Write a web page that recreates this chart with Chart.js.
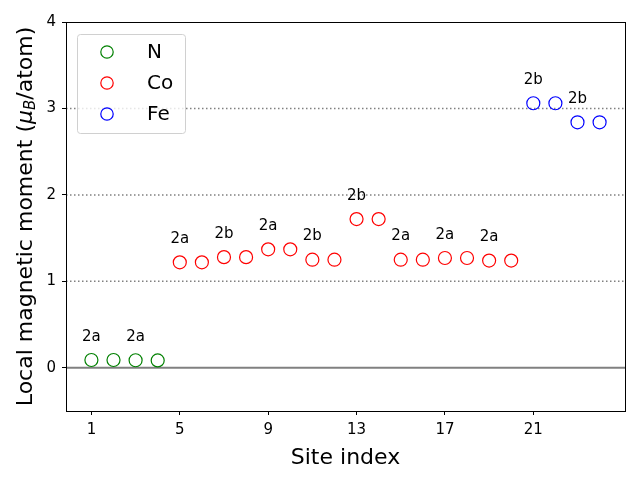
<!DOCTYPE html>
<html>
<head>
<meta charset="utf-8">
<script src="https://cdn.jsdelivr.net/npm/chart.js@4"></script>
<style>
  html, body { margin: 0; padding: 0; background: #fff; }
  #wrap { width: 640px; height: 480px; }
</style>
</head>
<body>
<div id="wrap"><canvas id="myChart" width="640" height="480"></canvas></div>
<script>
// site indices and local moments per element
const nSites = [1, 2, 3, 4];
const nMoments = [0.09, 0.09, 0.087, 0.085];
const coSites = [5, 6, 7, 8, 9, 10, 11, 12, 13, 14, 15, 16, 17, 18, 19, 20];
const coMoments = [1.22, 1.22, 1.28, 1.28, 1.37, 1.37, 1.25, 1.25, 1.72, 1.72, 1.25, 1.25, 1.27, 1.27, 1.24, 1.24];
const feSites = [21, 22, 23, 24];
const feMoments = [3.06, 3.06, 2.84, 2.84];

// wyckoff labels placed above the first site of each pair
const labelSites = [1, 3, 5, 7, 9, 11, 13, 15, 17, 19, 21, 23];
const labelText = ['2a', '2a', '2a', '2b', '2a', '2b', '2b', '2a', '2a', '2a', '2b', '2b'];

const xTicks = [1, 5, 9, 13, 17, 21];
const yTicks = [0, 1, 2, 3, 4];
const refLines = [1, 2, 3];

const seriesNames = ['N', 'Co', 'Fe'];
const seriesColors = ['green', 'red', 'blue'];

const FONT = 'DejaVu Sans';

function toPoints(xs, ys) {
  return xs.map((x, i) => ({ x: x, y: ys[i] }));
}

function momentAt(site) {
  let i = nSites.indexOf(site);
  if (i >= 0) return nMoments[i];
  i = coSites.indexOf(site);
  if (i >= 0) return coMoments[i];
  return feMoments[feSites.indexOf(site)];
}

const extras = {
  id: 'extras',
  beforeDatasetsDraw(chart) {
    const ctx = chart.ctx;
    const y = chart.scales.y;
    const a = chart.chartArea;
    ctx.save();
    // dotted reference lines
    ctx.strokeStyle = 'gray';
    ctx.lineWidth = 1.5;
    ctx.setLineDash([1.5, 2.5]);
    refLines.forEach(v => {
      const py = y.getPixelForValue(v);
      ctx.beginPath();
      ctx.moveTo(a.left, py);
      ctx.lineTo(a.right, py);
      ctx.stroke();
    });
    // zero line
    ctx.setLineDash([]);
    ctx.lineWidth = 2;
    const p0 = y.getPixelForValue(0);
    ctx.beginPath();
    ctx.moveTo(a.left, p0);
    ctx.lineTo(a.right, p0);
    ctx.stroke();
    ctx.restore();
  },
  afterDatasetsDraw(chart) {
    const ctx = chart.ctx;
    const x = chart.scales.x, y = chart.scales.y;
    const a = chart.chartArea;
    ctx.save();
    // frame
    ctx.strokeStyle = 'black';
    ctx.lineWidth = 1;
    ctx.strokeRect(a.left + 0.5, a.top + 0.5, a.right - a.left, a.bottom - a.top);

    // site labels
    ctx.fillStyle = 'black';
    ctx.font = '15px "' + FONT + '"';
    ctx.textAlign = 'center';
    ctx.textBaseline = 'middle';
    labelSites.forEach((s, i) => {
      ctx.fillText(labelText[i], x.getPixelForValue(s), y.getPixelForValue(momentAt(s) + 0.27));
    });

    // legend inside the plot
    const lx = a.left + 11, ly = a.top + 12, lw = 108, lh = 99;
    ctx.fillStyle = 'rgba(255,255,255,0.8)';
    ctx.strokeStyle = '#d0d0d0';
    ctx.lineWidth = 1;
    ctx.beginPath();
    ctx.roundRect(lx + 0.5, ly + 0.5, lw, lh, 3);
    ctx.fill();
    ctx.stroke();
    ctx.font = '20px "' + FONT + '"';
    ctx.textAlign = 'left';
    seriesNames.forEach((name, i) => {
      const cy = ly + 18 + i * 31;
      ctx.strokeStyle = seriesColors[i];
      ctx.lineWidth = 1.2;
      ctx.beginPath();
      ctx.arc(lx + 30, cy, 6.2, 0, Math.PI * 2);
      ctx.stroke();
      ctx.fillStyle = 'black';
      ctx.fillText(name, lx + 70, cy + 1);
    });

    // y axis title with mu_B
    ctx.translate(26, (a.top + a.bottom) / 2);
    ctx.rotate(-Math.PI / 2);
    const parts = [
      { t: 'Local magnetic moment (', f: '22px "' + FONT + '"', dy: 0 },
      { t: 'μ', f: 'italic 22px "' + FONT + '"', dy: 0 },
      { t: 'B', f: 'italic 15px "' + FONT + '"', dy: 5 },
      { t: '/atom)', f: '22px "' + FONT + '"', dy: 0 }
    ];
    let total = 0;
    parts.forEach(p => { ctx.font = p.f; p.w = ctx.measureText(p.t).width; total += p.w; });
    let cx = -total / 2;
    ctx.textBaseline = 'middle';
    parts.forEach(p => {
      ctx.font = p.f;
      ctx.fillText(p.t, cx, p.dy);
      cx += p.w;
    });
    ctx.restore();
  }
};

const ds = (i, xs, ys) => ({
  label: seriesNames[i],
  data: toPoints(xs, ys),
  borderColor: seriesColors[i],
  backgroundColor: 'rgba(0,0,0,0)',
  pointRadius: 6.5,
  pointHoverRadius: 6.5,
  borderWidth: 1.2,
  showLine: false
});

new Chart(document.getElementById('myChart'), {
  type: 'scatter',
  data: {
    datasets: [ds(0, nSites, nMoments), ds(1, coSites, coMoments), ds(2, feSites, feMoments)]
  },
  options: {
    responsive: false,
    animation: false,
    layout: { padding: { top: 22, right: 15, left: 0, bottom: 0 } },
    plugins: {
      legend: { display: false },
      tooltip: { enabled: false }
    },
    scales: {
      x: {
        type: 'linear',
        min: -0.15,
        max: 25.15,
        afterBuildTicks: s => { s.ticks = xTicks.map(v => ({ value: v })); },
        afterFit: s => { s.height = 69; },
        grid: { drawOnChartArea: false, drawTicks: true, tickLength: 4, color: 'black' },
        border: { color: 'black' },
        ticks: { color: 'black', font: { family: FONT, size: 15 }, padding: 6, maxRotation: 0 },
        title: { display: true, text: 'Site index', color: 'black', font: { family: FONT, size: 22 }, padding: { top: 0, bottom: 9 } }
      },
      y: {
        min: -0.5,
        max: 4,
        afterBuildTicks: s => { s.ticks = yTicks.map(v => ({ value: v })); },
        afterFit: s => { s.width = 66; },
        grid: { drawOnChartArea: false, drawTicks: true, tickLength: 4, color: 'black' },
        border: { color: 'black' },
        ticks: { color: 'black', font: { family: FONT, size: 15 }, padding: 6 }
      }
    }
  },
  plugins: [extras]
});
</script>
</body>
</html>
